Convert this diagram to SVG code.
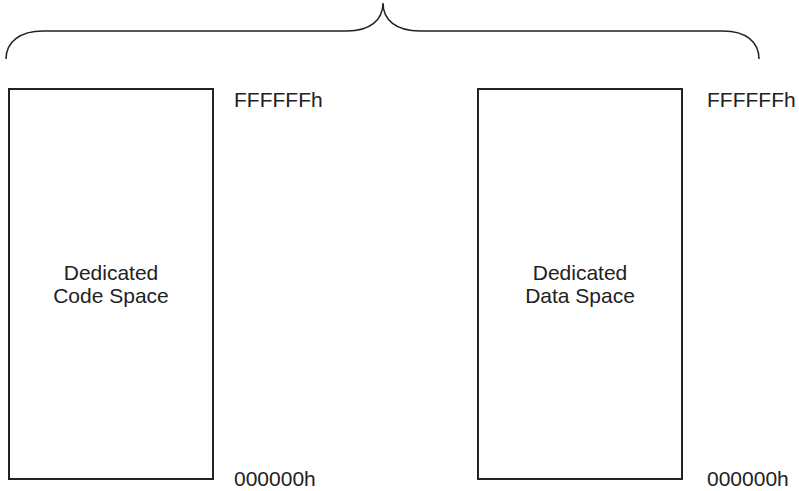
<svg xmlns="http://www.w3.org/2000/svg" width="799" height="491" viewBox="0 0 799 491">
<style>
.box{fill:#fff;stroke:#222;stroke-width:2}
.brace{fill:none;stroke:#222;stroke-width:1.5}
text{font-family:"Liberation Sans",Arial,sans-serif;font-size:21px;fill:#222}
.c{text-anchor:middle}
</style>
<rect width="799" height="491" fill="#fff"/>
<g id="connectors">
<path class="brace" d="M6,59 C6,42 20,31 43,31 L347,31 C370,31 383,20 383,3 C383,20 396,31 420,31 L723,31 C746,31 759,42 759,59"/>
</g>
<g id="code">
<rect class="box" x="9" y="89" width="204" height="390"/>
<text class="c" x="111" y="280">Dedicated</text>
<text class="c" x="111" y="303">Code Space</text>
<text x="234" y="107">FFFFFFh</text>
<text x="234" y="486">000000h</text>
</g>
<g id="data">
<rect class="box" x="478" y="89" width="204" height="390"/>
<text class="c" x="580" y="280">Dedicated</text>
<text class="c" x="580" y="303">Data Space</text>
<text x="707" y="107">FFFFFFh</text>
<text x="707" y="486">000000h</text>
</g>
</svg>
